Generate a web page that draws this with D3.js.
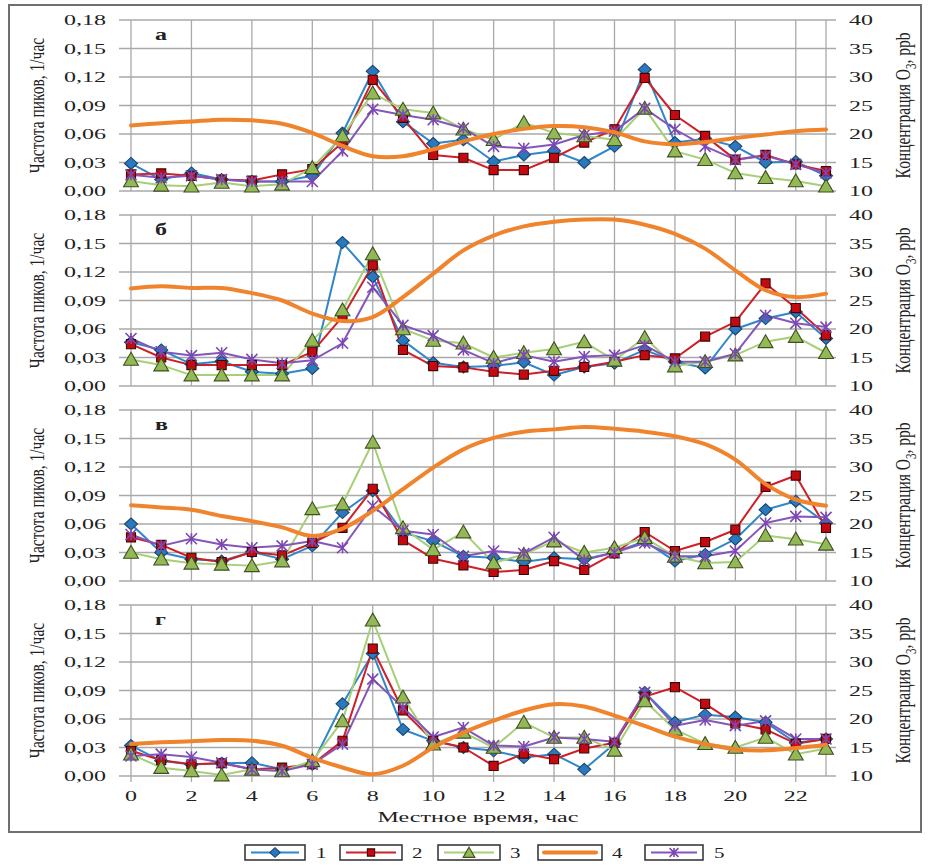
<!DOCTYPE html>
<html>
<head>
<meta charset="utf-8">
<script src="https://cdn.jsdelivr.net/npm/d3@7"></script>
<style>
  html, body { margin: 0; padding: 0; background: #fff; }
  svg { display: block; }
  text { font-family: "Liberation Serif", "DejaVu Serif", serif; fill: #222; }
</style>
</head>
<body>
<svg id="chart" width="928" height="865"></svg>
<script>
// Hours of the day (local time)
const hours = [0,1,2,3,4,5,6,7,8,9,10,11,12,13,14,15,16,17,18,19,20,21,22,23];
const hourTicks = [0,2,4,6,8,10,12,14,16,18,20,22];
const freqTicks = [0, 0.03, 0.06, 0.09, 0.12, 0.15, 0.18];
const ozoneTicks = [10, 15, 20, 25, 30, 35, 40];
const panelLabels = ["а", "б", "в", "г"];
const seriesNames = ["1", "2", "3", "4", "5"];

// Panel а — peak frequency (1/h) for groups 1,2,3,5 and O3 (ppb) as series 4
const a1 = [0.029,0.012,0.019,0.012,0.010,0.010,0.016,0.061,0.126,0.073,0.050,0.054,0.031,0.038,0.042,0.030,0.047,0.128,0.051,0.055,0.047,0.030,0.031,0.016];
const a2 = [0.0175,0.0185,0.016,0.012,0.011,0.0175,0.023,0.051,0.117,0.077,0.038,0.035,0.022,0.022,0.035,0.051,0.065,0.119,0.080,0.058,0.033,0.038,0.028,0.021];
const a3 = [0.0105,0.006,0.005,0.009,0.005,0.007,0.0245,0.058,0.103,0.086,0.082,0.065,0.054,0.072,0.061,0.058,0.054,0.087,0.042,0.033,0.019,0.014,0.0105,0.005];
const a4 = [21.5,21.9,22.2,22.5,22.4,21.8,20.2,17.9,16.1,16.1,17.3,18.7,20.0,20.9,21.4,21.2,20.3,18.7,18.2,18.6,19.3,19.9,20.5,20.8];
const a5 = [0.017,0.014,0.016,0.012,0.010,0.010,0.010,0.042,0.086,0.080,0.075,0.066,0.047,0.045,0.049,0.059,0.063,0.087,0.065,0.047,0.033,0.037,0.028,0.019];

// Panel б
const b1 = [0.046,0.038,0.023,0.026,0.015,0.013,0.0185,0.151,0.115,0.048,0.0245,0.020,0.021,0.025,0.0115,0.020,0.024,0.038,0.0255,0.019,0.060,0.071,0.078,0.050];
const b2 = [0.044,0.030,0.022,0.022,0.022,0.022,0.036,0.073,0.127,0.038,0.021,0.0196,0.015,0.012,0.016,0.020,0.0255,0.0325,0.029,0.052,0.0675,0.108,0.082,0.0535];
const b3 = [0.028,0.022,0.0115,0.0115,0.0115,0.0115,0.048,0.080,0.139,0.060,0.048,0.045,0.030,0.035,0.039,0.0465,0.027,0.051,0.021,0.0255,0.0325,0.0465,0.052,0.035];
const b4 = [27.1,27.5,27.2,27.2,26.3,25.0,22.7,21.4,22.1,25.6,29.7,33.8,36.4,38.0,38.8,39.2,39.2,38.3,36.7,34.1,30.3,26.8,25.6,26.2];
const b5 = [0.050,0.036,0.032,0.035,0.028,0.024,0.027,0.045,0.104,0.064,0.053,0.038,0.024,0.0325,0.0255,0.031,0.0325,0.043,0.0255,0.0255,0.034,0.0745,0.066,0.062];

// Panel в
const c1 = [0.060,0.030,0.023,0.021,0.0305,0.023,0.037,0.072,0.095,0.051,0.042,0.026,0.0245,0.020,0.0245,0.023,0.030,0.042,0.021,0.028,0.044,0.075,0.084,0.061];
const c2 = [0.046,0.038,0.0245,0.020,0.0305,0.027,0.040,0.056,0.097,0.043,0.0235,0.0165,0.0095,0.0116,0.021,0.0116,0.029,0.0516,0.0316,0.041,0.054,0.099,0.111,0.056];
const c3 = [0.030,0.023,0.0186,0.0175,0.016,0.021,0.076,0.081,0.146,0.056,0.033,0.0515,0.019,0.028,0.042,0.030,0.035,0.0456,0.026,0.019,0.020,0.048,0.044,0.0386];
const c4 = [23.3,22.9,22.5,21.4,20.5,19.4,17.9,19.2,22.3,26.1,29.9,33.1,35.1,36.2,36.6,37.0,36.7,36.2,35.4,34.0,31.3,27.0,24.3,23.2];
const c5 = [0.049,0.037,0.0445,0.0385,0.035,0.037,0.042,0.035,0.079,0.053,0.049,0.026,0.0316,0.029,0.046,0.022,0.030,0.040,0.026,0.026,0.0316,0.061,0.068,0.067];

// Panel г
const d1 = [0.032,0.016,0.012,0.0134,0.014,0.007,0.0124,0.076,0.129,0.049,0.037,0.030,0.0265,0.0194,0.023,0.007,0.034,0.088,0.0565,0.0646,0.062,0.0565,0.035,0.039];
const d2 = [0.0265,0.0166,0.0124,0.0134,0.007,0.0088,0.0124,0.037,0.134,0.069,0.037,0.030,0.0106,0.0236,0.0176,0.029,0.035,0.0836,0.0935,0.076,0.0554,0.049,0.034,0.039];
const d3v = [0.023,0.0088,0.0053,0.001,0.007,0.0053,0.016,0.058,0.164,0.083,0.0335,0.046,0.030,0.0565,0.0406,0.0406,0.027,0.079,0.049,0.034,0.030,0.0406,0.023,0.029];
const d4 = [15.6,15.9,16.1,16.3,16.2,15.3,13.2,11.5,10.3,11.8,15.0,17.6,19.7,21.5,22.6,22.2,20.6,18.8,16.9,15.6,14.7,14.5,14.9,15.5];
const d5 = [0.021,0.023,0.020,0.014,0.007,0.0053,0.0124,0.0335,0.102,0.072,0.041,0.051,0.032,0.031,0.0406,0.039,0.036,0.088,0.053,0.059,0.053,0.058,0.039,0.039];

const panelData = [
  {label: panelLabels[0], s1: a1, s2: a2, s3: a3, o3: a4, s5: a5},
  {label: panelLabels[1], s1: b1, s2: b2, s3: b3, o3: b4, s5: b5},
  {label: panelLabels[2], s1: c1, s2: c2, s3: c3, o3: c4, s5: c5},
  {label: panelLabels[3], s1: d1, s2: d2, s3: d3v, o3: d4, s5: d5}
];

// ---- styling ----
const grid = "#a9a9a9";
const style = {
  s1: {line: "#2f86c8", fill: "#2a78bd", stroke: "#1b476f", sym: "diamond"},
  s2: {line: "#cf1f27", fill: "#c40a10", stroke: "#3d0606", sym: "square"},
  s3: {line: "#a6cf78", fill: "#93b956", stroke: "#3f4f1f", sym: "triangle"},
  o3: {line: "#f0842c"},
  s5: {line: "#8456bb", fill: "none", stroke: "#7a48b0", sym: "star"}
};

const svg = d3.select("#chart");
const x = d3.scaleLinear().domain([0, 23]).range([131, 826]);
const panelTop = [20, 215, 410, 605];
const panelH = 171;
const SX = 1.6; // horizontal stretch of the serif lettering

function stretchText(g, px, py, str, anchor, size, weight, sx) {
  return g.append("text")
    .attr("transform", `translate(${px},${py}) scale(${sx || SX},1)`)
    .attr("text-anchor", anchor)
    .attr("font-size", size)
    .attr("font-weight", weight || "normal")
    .text(str);
}

function drawMarker(g, kind, cx, cy, st, scale) {
  const k = scale || 1;
  if (kind === "star") {
    const r = 5.5 * k;
    g.append("path")
      .attr("d", `M${cx - r},${cy - r}L${cx + r},${cy + r}M${cx - r},${cy + r}L${cx + r},${cy - r}M${cx},${cy - r}L${cx},${cy + r}`)
      .attr("stroke", st.stroke).attr("stroke-width", 1.6).attr("fill", "none");
    return;
  }
  if (kind === "diamond") {
    const w = 6.5 * k, h = 6 * k;
    g.append("path")
      .attr("d", `M${cx},${cy - h}L${cx + w},${cy}L${cx},${cy + h}L${cx - w},${cy}Z`)
      .attr("fill", st.fill).attr("stroke", st.stroke).attr("stroke-width", 1.1);
    return;
  }
  const typeMap = {square: d3.symbolSquare, triangle: d3.symbolTriangle};
  const sizeMap = {square: 82, triangle: 95};
  g.append("path")
    .attr("d", d3.symbol().type(typeMap[kind]).size(sizeMap[kind] * k * k)())
    .attr("transform", `translate(${cx},${cy + (kind === "triangle" ? 1.5 : 0)})`)
    .attr("fill", st.fill).attr("stroke", st.stroke).attr("stroke-width", 1.1);
}

// outer frame
svg.append("rect").attr("x", 9).attr("y", 5).attr("width", 912).attr("height", 827)
  .attr("fill", "none").attr("stroke", "#6f6f6f").attr("stroke-width", 2);

panelData.forEach((p, i) => {
  const top = panelTop[i], bottom = top + panelH;
  const yL = d3.scaleLinear().domain([0, 0.18]).range([bottom, top]);
  const yR = d3.scaleLinear().domain([10, 40]).range([bottom, top]);
  const g = svg.append("g");

  // horizontal grid + outside ticks on both sides
  g.selectAll(".hg").data(freqTicks).join("line")
    .attr("x1", 119).attr("x2", 836)
    .attr("y1", d => yL(d)).attr("y2", d => yL(d))
    .attr("stroke", grid).attr("stroke-width", 1.3);

  // vertical grid every two hours plus the right edge
  const isLast = i === panelData.length - 1;
  g.selectAll(".vg").data(hourTicks.concat([23])).join("line")
    .attr("x1", d => x(d)).attr("x2", d => x(d))
    .attr("y1", top).attr("y2", d => (isLast && d !== 23) ? bottom + 6 : bottom)
    .attr("stroke", grid).attr("stroke-width", 1.3);

  // left tick labels
  freqTicks.forEach(t => {
    stretchText(g, 106, yL(t) + 5, t.toFixed(2).replace(".", ","), "end", 15);
  });
  // right tick labels
  ozoneTicks.forEach(t => {
    stretchText(g, 849, yR(t) + 5, String(t), "start", 15);
  });

  // axis titles
  g.append("text")
    .attr("transform", `translate(44,${(top + bottom) / 2}) rotate(-90) scale(1,1.4)`)
    .attr("text-anchor", "middle").attr("font-size", 15.5)
    .text("Частота пиков, 1/час");
  const rt = g.append("text")
    .attr("transform", `translate(910,${(top + bottom) / 2}) rotate(-90) scale(1,1.4)`)
    .attr("text-anchor", "middle").attr("font-size", 15.5);
  rt.append("tspan").text("Концентрация O");
  rt.append("tspan").attr("font-size", 11).attr("dy", 4).text("3");
  rt.append("tspan").attr("dy", -4).text(", ppb");

  // panel letter
  stretchText(g, 155, top + 20, p.label, "start", 16, "bold", 1.5);

  // frequency series lines
  const lineL = d3.line().x((d, j) => x(hours[j])).y(d => yL(d));
  const lineR = d3.line().x((d, j) => x(hours[j])).y(d => yR(d)).curve(d3.curveCatmullRom.alpha(0.5));

  ["s1", "s2", "s3", "s5"].forEach(key => {
    g.append("path").attr("d", lineL(p[key]))
      .attr("fill", "none").attr("stroke", style[key].line).attr("stroke-width", 2)
      .attr("stroke-linejoin", "round");
  });
  ["s1", "s2", "s3", "s5"].forEach(key => {
    p[key].forEach((v, j) => drawMarker(g, style[key].sym, x(hours[j]), yL(v), style[key]));
  });

  // ozone concentration on the secondary axis
  g.append("path").attr("d", lineR(p.o3))
    .attr("fill", "none").attr("stroke", style.o3.line).attr("stroke-width", 4)
    .attr("stroke-linecap", "round").attr("stroke-linejoin", "round");

  // hour labels under the last panel
  if (isLast) {
    hourTicks.forEach(h => stretchText(g, x(h), bottom + 25, String(h), "middle", 15));
  }
});

// x-axis title
stretchText(svg, 478, 822, "Местное время, час", "middle", 15.5, "normal", 1.55);

// legend
const legendItems = [
  {key: "s1", x0: 245, x1: 305, tx: 316},
  {key: "s2", x0: 340, x1: 402, tx: 412},
  {key: "s3", x0: 438, x1: 500, tx: 510},
  {key: "o3", x0: 538, x1: 602, tx: 612},
  {key: "s5", x0: 645, x1: 703, tx: 714}
];
const lg = svg.append("g");
legendItems.forEach((it, k) => {
  const cy = 852.5;
  lg.append("rect").attr("x", it.x0).attr("y", cy - 7.5).attr("width", it.x1 - it.x0).attr("height", 15)
    .attr("fill", "#fff").attr("stroke", "#3a3a3a").attr("stroke-width", 1.6);
  lg.append("line").attr("x1", it.x0 + 6).attr("x2", it.x1 - 6).attr("y1", cy).attr("y2", cy)
    .attr("stroke", style[it.key].line).attr("stroke-width", it.key === "o3" ? 4 : 1.8)
    .attr("stroke-linecap", it.key === "o3" ? "round" : "butt");
  if (it.key !== "o3") drawMarker(lg, style[it.key].sym, (it.x0 + it.x1) / 2, cy, style[it.key], 0.8);
  stretchText(lg, it.tx, cy + 5.5, seriesNames[k], "start", 15, "normal", 1.4);
});
</script>
</body>
</html>
